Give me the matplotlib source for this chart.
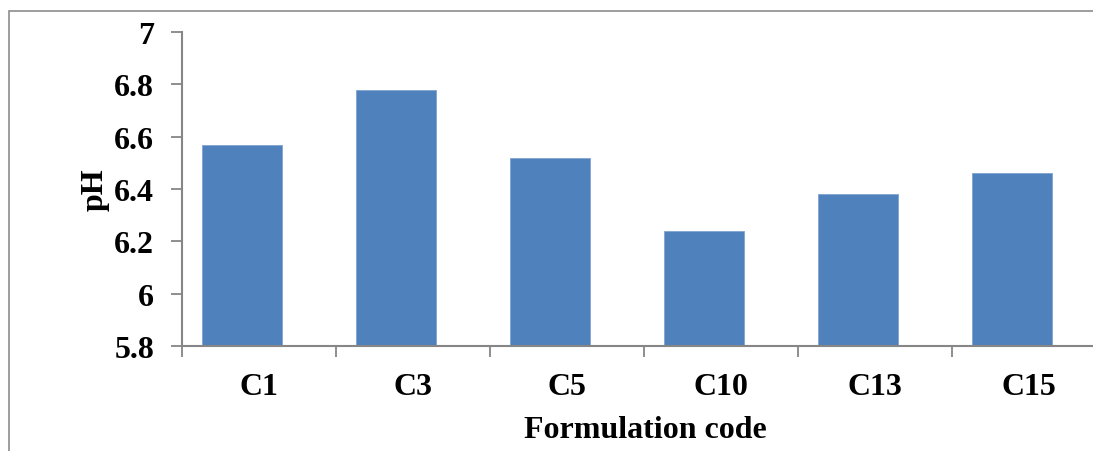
import matplotlib.pyplot as plt
from matplotlib.patches import Rectangle
import numpy as np

codes = ["C1", "C3", "C5", "C10", "C13", "C15"]
ph = [6.57, 6.78, 6.52, 6.24, 6.38, 6.46]
yticks = [5.8, 6.0, 6.2, 6.4, 6.6, 6.8, 7.0]
ytick_labels = ["5.8", "6", "6.2", "6.4", "6.6", "6.8", "7"]

plt.rcParams['font.family'] = ['Liberation Serif', 'DejaVu Serif']
plt.rcParams['font.weight'] = 'bold'

fig = plt.figure(figsize=(10.93, 4.52), dpi=100)
# outer chart border (right edge cropped in the reference)
fig.patches.append(Rectangle((9 / 1093, -0.1), 1.2, 1.1 - 12 / 452, transform=fig.transFigure,
                             fill=False, edgecolor='#8c8c8c', linewidth=1.2))

ax = fig.add_axes([182 / 1093, 1 - 347 / 452, 924 / 1093, 314 / 452])
x = np.arange(len(codes))
# bars sit a little left of the category centre, as in the original
ax.bar(x - 0.11, np.array(ph) - 5.8, bottom=5.8, width=0.525, color='#4F81BD',
       edgecolor='#7FA3D0', linewidth=0.6)

ax.set_xlim(-0.5, len(codes) - 0.5)
ax.set_ylim(5.8, 7.0)
ax.set_yticks(yticks)
ax.set_yticklabels(ytick_labels, fontsize=23, fontweight='bold')

# category boundary ticks, labels at centers
ax.set_xticks(np.arange(-0.5, len(codes), 1.0))
ax.set_xticklabels([])
ax.set_xticks(x, minor=True)
ax.set_xticklabels(codes, minor=True, fontsize=23, fontweight='bold')
ax.tick_params(axis='x', which='major', length=8, width=1.3, color='#868686', direction='out')
ax.tick_params(axis='x', which='minor', length=0, pad=19)
ax.tick_params(axis='y', length=8, width=1.3, color='#868686', direction='out', pad=12)

for s in ['top', 'right']:
    ax.spines[s].set_visible(False)
for s in ['left', 'bottom']:
    ax.spines[s].set_color('#868686')
    ax.spines[s].set_linewidth(1.5)

fig.text(645 / 1093, 1 - 431 / 452, "Formulation code", ha='center', va='center', fontsize=23, fontweight='bold')
fig.text(95 / 1093, 1 - 190 / 452, "pH", ha='center', va='center', rotation=90, fontsize=23, fontweight='bold')

fig.savefig("out.png", dpi=100)
